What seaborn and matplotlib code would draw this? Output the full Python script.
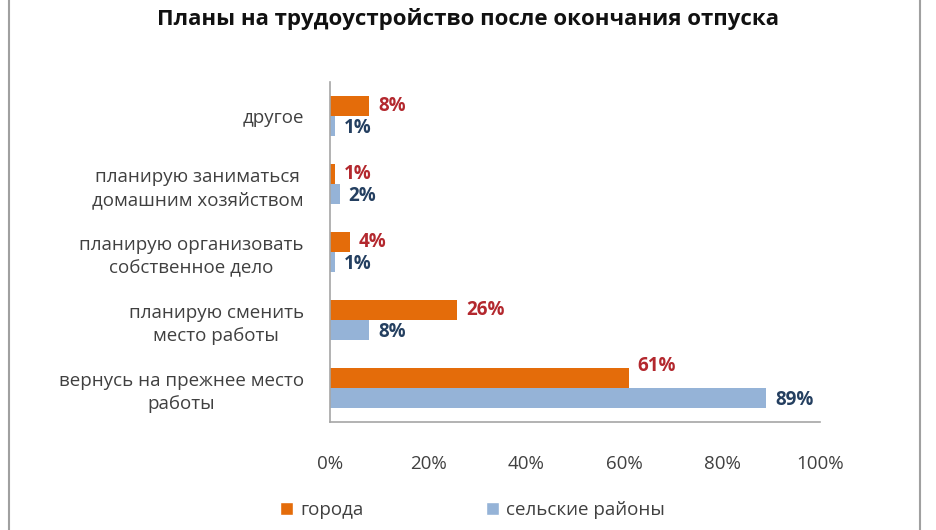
import matplotlib
matplotlib.use("Agg")
import matplotlib.pyplot as plt
from matplotlib.lines import Line2D
from matplotlib.patches import Patch
import seaborn as sns
import pandas as pd

categories = [
    "другое",
    "планирую заниматься\nдомашним хозяйством",
    "планирую организовать\nсобственное дело",
    "планирую сменить\nместо работы",
    "вернусь на прежнее место\nработы",
]
series_names = ["города", "сельские районы"]
cities = [8, 1, 4, 26, 61]
rural = [1, 2, 1, 8, 89]
xticks = [0, 20, 40, 60, 80, 100]
xtick_labels = ["0%", "20%", "40%", "60%", "80%", "100%"]
title = "Планы на трудоустройство после окончания отпуска"

colors = ["#E46C0A", "#95B3D7"]
label_colors = ["#B3282E", "#243F60"]

rows = []
for c, v in zip(categories, cities):
    rows.append({"cat": c, "series": series_names[0], "val": v})
for c, v in zip(categories, rural):
    rows.append({"cat": c, "series": series_names[1], "val": v})
df = pd.DataFrame(rows)

sns.set_theme(style="white")
plt.rcParams["font.family"] = ["Open Sans", "DejaVu Sans"]

fig = plt.figure(figsize=(9.36, 5.30), dpi=100)
ax = fig.add_axes([0.3526, 0.2038, 0.5235, 0.6415])

sns.barplot(data=df, y="cat", x="val", hue="series", order=categories,
            hue_order=series_names, palette=colors, width=0.6, orient="h",
            ax=ax, legend=False, saturation=1, edgecolor="none")

# value labels (orange label lifted when the blue bar below runs past it)
city_bars, rural_bars = ax.containers[0], ax.containers[1]
for cb, rb in zip(city_bars, rural_bars):
    w = cb.get_width()
    y = cb.get_y() + cb.get_height() / 2
    dy = -0.17 if rb.get_width() - w > 5 else 0.0
    ax.text(w + 1.8, y + dy, f"{int(round(w))}%", va="center", ha="left",
            color=label_colors[0], fontsize=13.5, fontweight="bold")
    w2 = rb.get_width()
    y2 = rb.get_y() + rb.get_height() / 2
    ax.text(w2 + 1.8, y2 + 0.03, f"{int(round(w2))}%", va="center", ha="left",
            color=label_colors[1], fontsize=13.5, fontweight="bold")

ax.set_xlim(0, 100)
ax.set_xticks(xticks)
ax.set_xticklabels(xtick_labels, fontsize=13.5, color="#404040")
ax.tick_params(axis="x", length=0, pad=24)
ax.tick_params(axis="y", length=0, pad=19)
for lab in ax.get_yticklabels():
    lab.set_multialignment("center")
    lab.set_fontsize(13.5)
    lab.set_linespacing(1.35)
    lab.set_color("#404040")
ax.set_xlabel("")
ax.set_ylabel("")
for s in ["top", "right"]:
    ax.spines[s].set_visible(False)
for s in ["left", "bottom"]:
    ax.spines[s].set_color("#A6A6A6")
    ax.spines[s].set_linewidth(1.2)

fig.suptitle(title, fontsize=16, fontweight="bold", y=0.985, x=0.5, color="#111111")

handles = [Patch(facecolor=colors[0]), Patch(facecolor=colors[1])]
fig.legend(handles, series_names, loc="center", bbox_to_anchor=(0.505, 0.038),
           ncol=2, frameon=False, fontsize=13.5, handlelength=0.7,
           handleheight=0.7, columnspacing=6.5, handletextpad=0.4,
           labelcolor="#404040")

# frame lines
fig.add_artist(Line2D([9/936, 9/936], [0, 1], color="#A0A0A0", lw=1.5, transform=fig.transFigure))
fig.add_artist(Line2D([920/936, 920/936], [0, 1], color="#A0A0A0", lw=1.5, transform=fig.transFigure))

fig.savefig("out.png", dpi=100)
